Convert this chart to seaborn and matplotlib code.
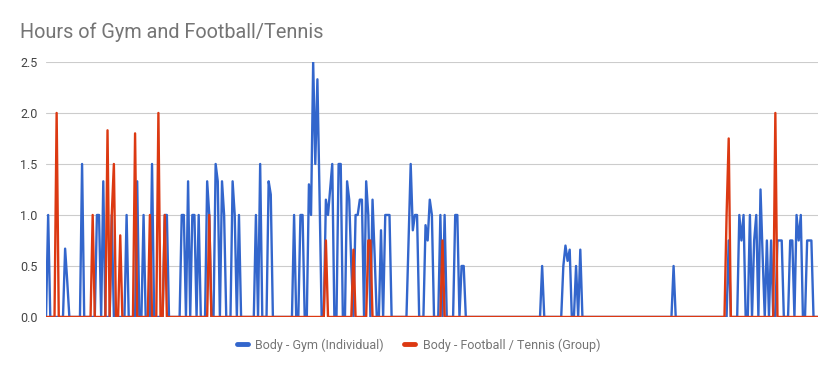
import numpy as np
import pandas as pd
import seaborn as sns
import matplotlib.pyplot as plt
from matplotlib.lines import Line2D

sns.set_theme(style="white")
plt.rcParams['font.family'] = ['Roboto', 'DejaVu Sans']

n_days = 365

# days with gym hours (index of day, hours)
gym_days = [1, 9, 10, 17, 24, 25, 27, 31, 38, 43, 46, 50, 56, 57, 64, 65, 67, 69, 70, 72,
            76, 77, 80, 81, 83, 84, 88, 89, 91, 99, 101, 105, 106, 117, 120, 121,
            124, 125, 126, 127, 128, 129, 132, 133, 134, 135, 138, 139, 142, 143, 144,
            146, 147, 148, 149, 151, 152, 154, 155, 158, 160, 161, 162,
            171, 172, 173, 174, 175, 179, 180, 181, 182, 186, 188, 193, 194, 196, 197,
            234, 244, 245, 246, 247, 250, 252, 296,
            322, 327, 328, 329, 332, 334, 335, 337, 338, 340, 342, 345, 346, 347,
            351, 352, 354, 355, 356, 359, 360, 361]
gym_hours = [1.0, 0.67, 0.35, 1.5, 1.0, 1.0, 1.33, 1.0, 1.0, 1.33, 1.0, 1.5, 1.0, 1.0, 1.0, 1.0, 1.33, 1.0, 1.0, 1.0,
             1.33, 1.0, 1.5, 1.33, 1.33, 1.0, 1.33, 1.0, 1.0, 1.0, 1.5, 1.33, 1.2, 1.0, 1.0, 1.0,
             1.3, 1.0, 2.5, 1.5, 2.33, 1.2, 1.15, 1.0, 1.25, 1.5, 1.5, 1.5, 1.33, 1.15, 0.5,
             1.0, 1.0, 1.15, 1.15, 1.33, 1.0, 1.15, 0.6, 0.85, 1.0, 1.0, 1.0,
             0.75, 1.5, 0.85, 1.0, 1.0, 0.9, 0.75, 1.15, 1.0, 1.0, 1.0, 1.0, 1.0, 0.5, 0.5,
             0.5, 0.5, 0.7, 0.55, 0.66, 0.5, 0.66, 0.5,
             0.75, 1.0, 0.75, 1.0, 1.0, 0.75, 1.0, 1.25, 0.6, 0.75, 0.75, 0.75, 0.75, 0.75,
             0.75, 0.75, 1.0, 0.75, 1.0, 0.75, 0.75, 0.75]

# days with football / tennis hours
sport_days = [5, 22, 29, 31, 32, 35, 42, 49, 53, 56, 77, 132, 145, 152, 153, 187, 321, 322, 344]
sport_hours = [2.0, 1.0, 1.83, 1.0, 1.5, 0.8, 1.8, 1.0, 2.0, 1.0, 1.0, 0.75, 0.66, 0.75, 0.75, 0.75, 1.0, 1.75, 2.0]

gym = np.zeros(n_days)
gym[gym_days] = gym_hours
sport = np.zeros(n_days)
sport[sport_days] = sport_hours

labels = ["Body - Gym (Individual)", "Body - Football / Tennis (Group)"]
colors = ["#3366cc", "#dc3912"]

df = pd.concat([
    pd.DataFrame({"day": np.arange(n_days), "hours": gym, "series": labels[0]}),
    pd.DataFrame({"day": np.arange(n_days), "hours": sport, "series": labels[1]}),
])

fig = plt.figure(figsize=(8.37, 3.71), dpi=100)
ax = fig.add_axes([0.055, 0.1456, 0.922, 0.6874])

sns.lineplot(data=df, x="day", y="hours", hue="series", palette=colors,
             linewidth=1.7, legend=False, ax=ax)

ax.set_xlim(0, n_days - 1)
ax.set_ylim(0, 2.5)
ax.set_yticks([0, 0.5, 1.0, 1.5, 2.0, 2.5])
ax.set_yticklabels(["0.0", "0.5", "1.0", "1.5", "2.0", "2.5"])
ax.set_xticks([])
ax.set_xlabel("")
ax.set_ylabel("")
ax.tick_params(axis="y", length=0, labelsize=9, labelcolor="#444444", pad=6)
ax.grid(axis="y", color="#cccccc", linewidth=0.8)
for s in ax.spines.values():
    s.set_visible(False)

fig.text(20 / 837, 1 - 32 / 371, "Hours of Gym and Football/Tennis",
         fontsize=14.3, color="#757575", va="center", ha="left")

handles = [Line2D([], [], color=c, linewidth=3.5) for c in colors]
fig.legend(handles, labels, loc="center", bbox_to_anchor=(0.5, 1 - 345 / 371),
           ncol=2, frameon=False, fontsize=9, handlelength=0.9, handletextpad=0.6,
           columnspacing=1.6, labelcolor="#757575")

plt.savefig("out.png", dpi=100)
